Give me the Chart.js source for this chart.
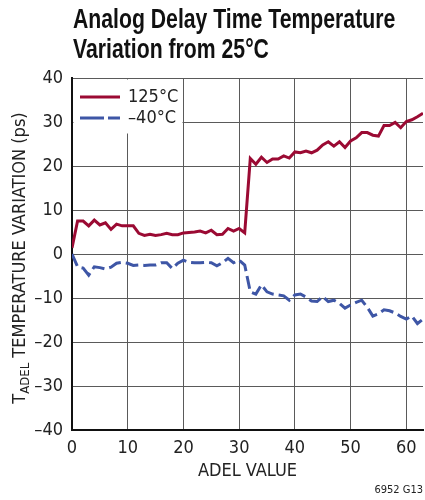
<!DOCTYPE html>
<html>
<head>
<meta charset="utf-8">
<script src="https://cdn.jsdelivr.net/npm/chart.js@4.4.1/dist/chart.umd.min.js"></script>
<style>
  body { margin: 0; background: #fff; }
  #wrap { position: relative; width: 425px; height: 500px; }
  #titulo {
    position: absolute; left: 73px; top: 4px;
    font-family: "Liberation Sans", Arial, sans-serif;
    font-weight: bold; font-size: 28px; line-height: 30px; color: #111;
    white-space: nowrap; transform-origin: 0 0;
  }
  #nota {
    position: absolute; right: 2px; top: 483px;
    font-family: "DejaVu Sans Condensed", sans-serif;
    font-size: 11px; color: #222;
  }
  canvas { position: absolute; left: 0; top: 0; }
</style>
</head>
<body>
<div id="wrap">
  <canvas id="grafico" width="425" height="500"></canvas>
  <div id="titulo">Analog Delay Time Temperature<br>Variation from 25°C</div>
  <div id="nota">6952 G13</div>
</div>
<script>
// valores de ADEL (eixo x)
const adel = [0, 1, 2, 3, 4, 5, 6, 7, 8, 9, 10, 11, 12, 13, 14, 15, 16, 17, 18, 19,
  20, 21, 22, 23, 24, 25, 26, 27, 28, 29, 30, 31, 32, 33, 34, 35, 36, 37, 38, 39,
  40, 41, 42, 43, 44, 45, 46, 47, 48, 49, 50, 51, 52, 53, 54, 55, 56, 57, 58, 59,
  60, 61, 62, 63];

// variacao em ps
const var125 = [1.4, 7.5, 7.5, 6.4, 7.7, 6.6, 7.1, 5.6, 6.8, 6.4, 6.4, 6.4, 4.7, 4.2, 4.5, 4.2,
  4.4, 4.7, 4.4, 4.4, 4.8, 4.9, 5.0, 5.2, 4.8, 5.4, 4.4, 4.5, 5.8, 5.2, 5.8, 4.8,
  21.7, 20.4, 22.0, 20.8, 21.6, 21.6, 22.3, 21.8, 23.2, 23.0, 23.4, 23.0, 23.6, 24.8, 25.5, 24.5,
  25.5, 24.2, 25.7, 26.4, 27.6, 27.6, 27.0, 26.8, 29.2, 29.2, 29.9, 28.7, 30.1, 30.5, 31.2, 32.0];

const varMenos40 = [0, -2.9, -3.2, -4.8, -2.9, -3.1, -3.4, -3.0, -2.1, -1.9, -2.1, -2.6, -2.5, -2.6, -2.5, -2.5,
  -2.0, -2.0, -3.3, -2.1, -1.4, -1.9, -2.0, -2.0, -1.9, -2.0, -2.7, -2.0, -1.0, -2.0, -1.4, -2.5,
  -8.6, -9.1, -7.0, -8.6, -9.1, -9.3, -9.5, -10.5, -9.3, -9.1, -9.8, -10.7, -10.8, -9.7, -10.8, -10.5,
  -11.2, -12.3, -11.6, -11.0, -10.5, -12.1, -14.1, -13.6, -12.7, -12.9, -13.4, -14.2, -14.8, -14.1, -15.8, -14.8];

const series = ['125°C', '–40°C'];
const ticksX = [0, 10, 20, 30, 40, 50, 60];
const ticksY = [-40, -30, -20, -10, 0, 10, 20, 30, 40];

const fonte = '"DejaVu Sans Condensed", "Liberation Sans", sans-serif';
const vermelho = '#9b0a33';
const azul = '#3e56a6';

// titulo estreito, ajustado a largura do original
const titulo = document.getElementById('titulo');
titulo.style.transform = 'scaleX(' + (322 / titulo.scrollWidth) + ')';

function pontos(valores) {
  return adel.map((x, i) => ({ x: x, y: valores[i] }));
}

// legenda dentro da area do grafico, com fundo branco
const legendaPlugin = {
  id: 'legendaInterna',
  beforeDatasetsDraw(chart) {
    const { ctx, chartArea } = chart;
    ctx.save();
    ctx.fillStyle = '#fff';
    ctx.fillRect(chartArea.left + 1.5, chartArea.top + 1.5, 109, 54);
    const linhas = [chartArea.top + 19, chartArea.top + 40];
    chart.data.datasets.forEach((ds, i) => {
      const y = linhas[i];
      ctx.strokeStyle = ds.borderColor;
      ctx.lineWidth = 3;
      ctx.setLineDash(i === 1 ? [24, 4] : []);
      ctx.beginPath();
      ctx.moveTo(chartArea.left + 8, y);
      ctx.lineTo(chartArea.left + 48, y);
      ctx.stroke();
      ctx.setLineDash([]);
      ctx.fillStyle = '#222';
      ctx.font = '18px ' + fonte;
      ctx.textBaseline = 'middle';
      ctx.fillText(ds.label, chartArea.left + 56, y);
    });
    ctx.restore();
  }
};

// titulo do eixo y com subscrito
const tituloYPlugin = {
  id: 'tituloY',
  afterDraw(chart) {
    const { ctx, chartArea } = chart;
    const cy = (chartArea.top + chartArea.bottom) / 2 + 4;
    ctx.save();
    ctx.translate(25, cy);
    ctx.rotate(-Math.PI / 2);
    ctx.fillStyle = '#222';
    ctx.textBaseline = 'alphabetic';
    const parte1 = 'T', sub = 'ADEL', parte2 = ' TEMPERATURE VARIATION (ps)';
    ctx.font = '18px ' + fonte;
    const w1 = ctx.measureText(parte1).width;
    const w3 = ctx.measureText(parte2).width;
    ctx.font = '13px ' + fonte;
    const w2 = ctx.measureText(sub).width;
    let x = -(w1 + w2 + w3) / 2;
    ctx.font = '18px ' + fonte;
    ctx.fillText(parte1, x, 0);
    x += w1;
    ctx.font = '13px ' + fonte;
    ctx.fillText(sub, x, 4);
    x += w2;
    ctx.font = '18px ' + fonte;
    ctx.fillText(parte2, x, 0);
    ctx.restore();
  }
};

new Chart(document.getElementById('grafico'), {
  type: 'line',
  data: {
    datasets: [{
      label: series[0],
      data: pontos(var125),
      borderColor: vermelho,
      borderWidth: 3,
      pointRadius: 0,
      tension: 0
    }, {
      label: series[1],
      data: pontos(varMenos40),
      borderColor: azul,
      borderWidth: 3,
      borderDash: [13, 5],
      pointRadius: 0,
      tension: 0
    }]
  },
  options: {
    responsive: false,
    animation: false,
    layout: { padding: { top: 78, right: 2, left: 0, bottom: 14 } },
    plugins: {
      legend: { display: false },
      tooltip: { enabled: false }
    },
    scales: {
      x: {
        type: 'linear',
        min: 0,
        max: 63,
        afterBuildTicks: s => { s.ticks = ticksX.map(v => ({ value: v })); },
        afterFit: s => { s.height = 56; },
        grid: { color: '#5a5a5a', lineWidth: 1, drawTicks: false },
        border: { color: '#111', width: 2 },
        ticks: { color: '#222', font: { family: fonte, size: 18 }, padding: 8 },
        title: { display: true, text: 'ADEL VALUE', color: '#222', font: { family: fonte, size: 18 }, padding: { top: 0 } }
      },
      y: {
        min: -40,
        max: 40,
        afterBuildTicks: s => { s.ticks = ticksY.map(v => ({ value: v })); },
        afterFit: s => { s.width = 72; },
        grid: { color: '#5a5a5a', lineWidth: 1, drawTicks: false },
        border: { color: '#111', width: 2 },
        ticks: {
          color: '#222', font: { family: fonte, size: 18 }, padding: 9,
          callback: v => v < 0 ? '–' + Math.abs(v) : String(v)
        }
      }
    }
  },
  plugins: [legendaPlugin, tituloYPlugin]
});
</script>
</body>
</html>
